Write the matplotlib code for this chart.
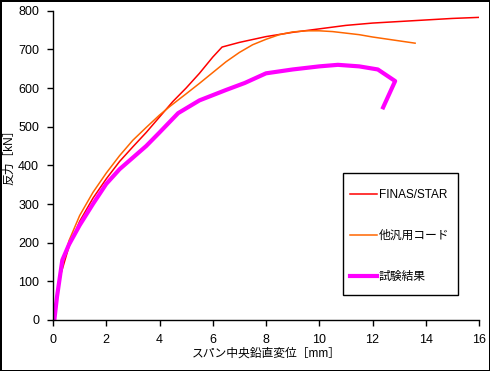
import matplotlib
matplotlib.use("Agg")
import matplotlib.pyplot as plt
from matplotlib.patches import Rectangle

plt.rcParams['font.family'] = ['Liberation Sans', 'Noto Sans CJK JP']

# FINAS/STAR
finas_x = [0, 0.1, 0.3, 0.6, 1.0, 1.5, 2.0, 2.5, 3.0, 3.5, 4.0, 4.5, 5.0, 5.5, 6.0, 6.35, 7.0, 8.0, 9.0, 10.0, 11.0, 12.0, 13.0, 14.0, 15.0, 16.1]
finas_y = [0, 40, 120, 190, 255, 315, 365, 410, 448, 485, 525, 565, 600, 638, 680, 706, 718, 733, 744, 753, 762, 768, 772, 776, 780, 783]

# 他汎用コード
other_x = [0, 0.1, 0.3, 0.6, 1.0, 1.5, 2.0, 2.5, 3.0, 3.5, 4.0, 4.4, 5.0, 5.5, 6.0, 6.5, 7.0, 7.5, 8.0, 8.5, 9.0, 9.5, 10.0, 10.5, 11.0, 11.5, 12.0, 12.5, 13.0, 13.6]
other_y = [0, 45, 130, 205, 270, 330, 380, 425, 465, 498, 530, 553, 585, 612, 640, 668, 692, 712, 726, 738, 745, 748, 748, 746, 742, 738, 732, 727, 722, 716]

# 試験結果
test_x = [0.05, 0.15, 0.35, 0.6, 1.0, 1.5, 2.0, 2.5, 3.0, 3.5, 4.0, 4.7, 5.5, 6.5, 7.2, 8.0, 9.0, 10.0, 10.7, 11.5, 12.2, 12.85, 12.4]
test_y = [0, 60, 155, 195, 245, 300, 352, 390, 420, 450, 485, 535, 568, 595, 613, 638, 648, 656, 660, 656, 648, 618, 550]

labels = ['FINAS/STAR', '他汎用コード', '試験結果']
xticks = [0, 2, 4, 6, 8, 10, 12, 14, 16]
yticks = [0, 100, 200, 300, 400, 500, 600, 700, 800]

W, H = 490, 371
fig = plt.figure(figsize=(4.9, 3.71), dpi=100)
fig.patch.set_edgecolor('black')
fig.patch.set_linewidth(2)
ax = fig.add_axes([53/W, 51/H, 426/W, 309.3/H])

ax.plot(finas_x, finas_y, color='#FF0000', lw=1.1, label=labels[0])
ax.plot(other_x, other_y, color='#FF6600', lw=1.1, label=labels[1])
ax.plot(test_x, test_y, color='#FF00FF', lw=3.0, label=labels[2])

ax.set_xlim(0, 16)
ax.set_ylim(0, 800)
ax.set_xticks(xticks)
ax.set_yticks(yticks)
ax.spines['top'].set_visible(False)
ax.spines['right'].set_visible(False)
for s in ['left', 'bottom']:
    ax.spines[s].set_linewidth(1)
ax.tick_params(direction='out', length=4, width=1, labelsize=9, pad=6)
ax.set_xlabel('スパン中央鉛直変位［mm］', fontsize=8.5)
ax.set_ylabel('反力［kN］', fontsize=8.5)
ax.xaxis.set_label_coords(0.5, (320 - 348) / 309.3)
ax.yaxis.set_label_coords((15 - 53) / 426, (320 - 154) / 309.3)

# legend frame
ax.add_patch(Rectangle((343/W, 1 - 295/H), (458-343)/W, (295-173)/H,
                       transform=fig.transFigure, fill=True, facecolor='white',
                       edgecolor='black', linewidth=1, zorder=4, clip_on=False))

leg = ax.legend(loc='upper left', bbox_to_anchor=((350-53)/426, (320-189)/309.3),
                frameon=False, fontsize=8.5, labelspacing=2.45, handlelength=2.3,
                handletextpad=0.15, borderpad=0, borderaxespad=0)
leg.set_zorder(6)

fig.savefig('out.png', dpi=100)
